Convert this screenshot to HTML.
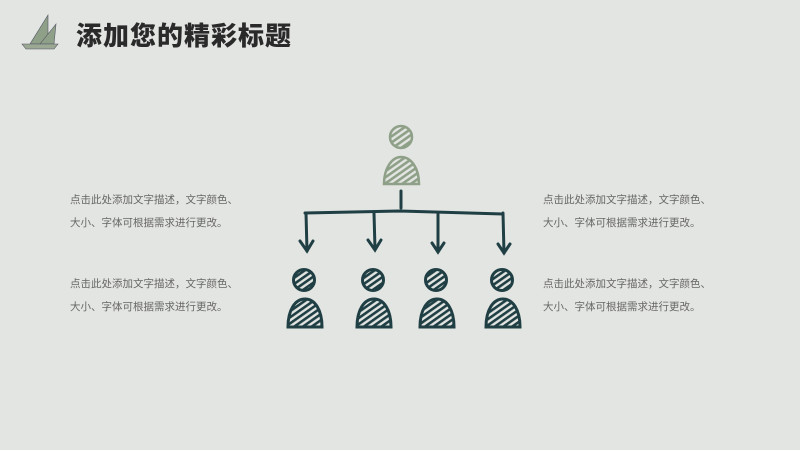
<!DOCTYPE html>
<html><head><meta charset="utf-8"><style>
html,body{margin:0;padding:0}
body{width:800px;height:450px;background:#e3e5e2;position:relative;overflow:hidden;font-family:"Liberation Sans","Noto Sans CJK SC",sans-serif}
.t{position:absolute;left:76px;top:16px;font-size:26px;font-weight:900;color:#2a2a2a;letter-spacing:1px}
.p{position:absolute;font-size:10.5px;color:#666;line-height:23px;width:220px}
</style></head><body>
<svg width="800" height="450" style="position:absolute;left:0;top:0">
<defs>
<pattern id="h1" width="5" height="5" patternUnits="userSpaceOnUse" patternTransform="rotate(-35)"><rect width="5" height="5" fill="#e3e5e2"/><rect width="5" height="2.6" fill="#1f3f44"/></pattern>
<pattern id="h2" width="5" height="5" patternUnits="userSpaceOnUse" patternTransform="rotate(-35)"><rect width="5" height="5" fill="#e3e5e2"/><rect width="5" height="2.6" fill="#8fa088"/></pattern>
</defs>
<g fill="#8fa088" stroke="#556" stroke-width="0.6">
<polygon points="48,15 30,44 48,44"/>
<polygon points="56,24 40,44 54,44"/>
<polygon points="22,44 58,44 54,49 26,49" fill="#9aa894"/>
</g>
<g stroke="#8fa088" stroke-width="2.5" fill="url(#h2)">
<circle cx="401" cy="137" r="11"/>
<path d="M384,184 C384,168 392,157 401,157 C411,157 419,168 419,184 Z"/>
</g>
<g stroke="#1f3f44" stroke-width="3" fill="none" stroke-linecap="round">
<line x1="401" y1="191" x2="401" y2="208"/>
<path d="M305,213 L400,211 L503,214"/>
<line x1="306" y1="213" x2="307" y2="251"/><polyline points="300,241 307,251 313,241"/>
<line x1="374" y1="213" x2="375" y2="249"/><polyline points="368,240 375,250 381,240"/>
<line x1="438" y1="213" x2="438" y2="252"/><polyline points="432,243 438,252 444,243"/>
<line x1="503" y1="213" x2="504" y2="253"/><polyline points="498,244 504,253 510,244"/>
</g>
<g stroke="#1f3f44" stroke-width="3" fill="url(#h1)">
<circle cx="304" cy="280" r="10.5"/><path d="M288,327 C288,310 295,299 305,299 C315,299 322,310 322,327 Z"/>
<circle cx="373" cy="280" r="10.5"/><path d="M357,327 C357,310 364,299 374,299 C384,299 391,310 391,327 Z"/>
<circle cx="436" cy="280" r="10.5"/><path d="M420,327 C420,310 427,299 437,299 C447,299 454,310 454,327 Z"/>
<circle cx="502" cy="280" r="10.5"/><path d="M486,327 C486,310 493,299 503,299 C513,299 520,310 520,327 Z"/>
</g>
</svg>
<div class="t">添加您的精彩标题</div>
<div class="p" style="left:70px;top:189px">点击此处添加文字描述，文字颜色、<br>大小、字体可根据需求进行更改。</div>
<div class="p" style="left:70px;top:273px">点击此处添加文字描述，文字颜色、<br>大小、字体可根据需求进行更改。</div>
<div class="p" style="left:543px;top:189px">点击此处添加文字描述，文字颜色、<br>大小、字体可根据需求进行更改。</div>
<div class="p" style="left:543px;top:273px">点击此处添加文字描述，文字颜色、<br>大小、字体可根据需求进行更改。</div>
</body></html>
